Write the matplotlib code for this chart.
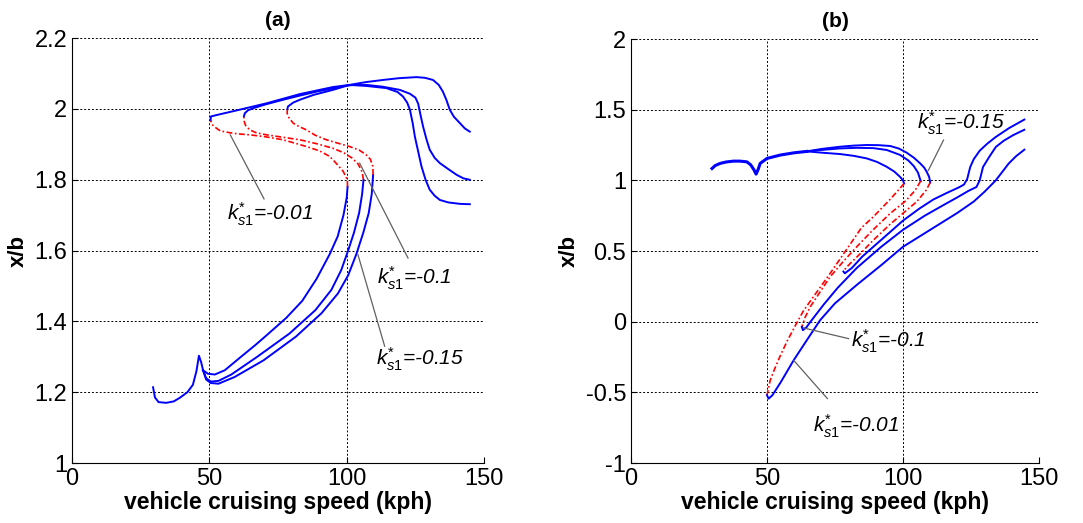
import matplotlib
matplotlib.use('Agg')
import matplotlib.pyplot as plt

plt.rcParams['font.family'] = ['Liberation Sans', 'DejaVu Sans']
plt.rcParams['mathtext.fontset'] = 'custom'
plt.rcParams['mathtext.it'] = 'Liberation Sans:italic'
plt.rcParams['mathtext.rm'] = 'Liberation Sans'

# ---- panel (a): stable (blue) / unstable (red) branches for each k*_s1 ----
a_low_x = [29.5, 30.2, 31.5, 34.3, 37.0, 39.2, 42.0, 44.0, 45.3, 46.2, 47.0, 47.7]
a_low_y = [1.214, 1.185, 1.172, 1.170, 1.174, 1.184, 1.200, 1.221, 1.260, 1.303, 1.285, 1.262]

# k = -0.01
a1_blue1_x = [47.7, 49.5, 52.0, 55.6, 61.5, 67.0, 71.0, 78.0, 83.8, 89.0, 93.8, 96.7, 98.8, 100.0, 100.3]
a1_blue1_y = [1.262, 1.252, 1.250, 1.262, 1.300, 1.335, 1.362, 1.410, 1.458, 1.520, 1.590, 1.640, 1.700, 1.750, 1.780]
a1_red_x = [100.3, 100.2, 98.7, 96.0, 93.8, 90.0, 85.3, 80.0, 76.8, 70.0, 64.7, 60.0, 57.4, 54.0, 52.5, 51.0, 50.4]
a1_red_y = [1.780, 1.800, 1.824, 1.848, 1.866, 1.882, 1.894, 1.906, 1.913, 1.922, 1.927, 1.930, 1.933, 1.938, 1.946, 1.956, 1.969]
a1_blue2_x = [50.4, 50.6, 53.8, 61.0, 70.8, 82.9, 95.0, 101.0, 107.2, 114.4, 118.5, 120.5, 122.0, 123.0, 124.0, 124.8, 126.0, 127.2, 128.7, 130.2, 132.0, 133.9, 137.0, 141.2, 144.8]
a1_blue2_y = [1.969, 1.979, 1.985, 1.998, 2.016, 2.042, 2.062, 2.068, 2.065, 2.059, 2.048, 2.035, 2.018, 1.998, 1.960, 1.922, 1.880, 1.838, 1.800, 1.772, 1.755, 1.743, 1.736, 1.732, 1.731]

# k = -0.1
a2_blue1_x = [47.7, 48.8, 50.5, 53.3, 58.0, 67.4, 79.2, 88.6, 94.4, 98.0, 100.5, 102.6, 104.5, 105.6, 106.1]
a2_blue1_y = [1.262, 1.240, 1.230, 1.232, 1.250, 1.300, 1.366, 1.432, 1.489, 1.545, 1.600, 1.650, 1.706, 1.760, 1.800]
a2_red_x = [106.1, 105.6, 104.2, 102.0, 99.0, 95.0, 89.0, 82.9, 76.0, 70.8, 67.0, 64.7, 63.2, 62.5, 62.6]
a2_red_y = [1.800, 1.822, 1.844, 1.861, 1.876, 1.889, 1.902, 1.913, 1.921, 1.927, 1.933, 1.941, 1.953, 1.969, 1.980]
a2_blue2_x = [62.6, 62.9, 64.0, 65.9, 70.0, 76.8, 83.0, 89.0, 95.0, 99.9, 103.0, 107.2, 113.0, 119.3, 123.0, 125.0, 126.0, 126.8, 127.8, 129.0, 130.2, 132.0, 133.9, 137.0, 140.0, 142.5, 144.8]
a2_blue2_y = [1.980, 1.988, 1.996, 2.002, 2.012, 2.026, 2.038, 2.049, 2.058, 2.066, 2.068, 2.068, 2.063, 2.054, 2.043, 2.032, 2.015, 1.985, 1.950, 1.915, 1.885, 1.862, 1.847, 1.830, 1.814, 1.804, 1.800]

# k = -0.15
a3_blue1_x = [47.7, 48.8, 50.5, 53.3, 59.2, 69.7, 81.5, 90.8, 96.8, 100.5, 103.5, 106.0, 108.0, 109.1, 109.6]
a3_blue1_y = [1.262, 1.236, 1.226, 1.224, 1.243, 1.290, 1.357, 1.423, 1.479, 1.530, 1.590, 1.650, 1.706, 1.760, 1.814]
a3_red_x = [109.6, 109.5, 108.6, 107.0, 104.5, 101.0, 96.5, 92.6, 88.5, 85.3, 82.5, 80.5, 79.0, 78.3, 78.4]
a3_red_y = [1.814, 1.838, 1.858, 1.871, 1.884, 1.894, 1.904, 1.913, 1.926, 1.941, 1.951, 1.960, 1.975, 1.988, 2.000]
a3_blue2_x = [78.4, 78.6, 80.5, 82.9, 88.0, 95.0, 101.0, 107.0, 113.2, 119.0, 125.4, 128.5, 131.4, 133.5, 135.0, 136.3, 137.5, 139.0, 141.2, 143.0, 144.8]
a3_blue2_y = [2.000, 2.007, 2.018, 2.026, 2.040, 2.054, 2.068, 2.076, 2.082, 2.087, 2.090, 2.088, 2.082, 2.068, 2.049, 2.025, 1.998, 1.978, 1.960, 1.945, 1.936]

# ---- panel (b) ----
b_top_x = [29.8, 31.0, 32.8, 35.0, 37.7, 40.0, 42.6, 44.0, 45.2, 46.0, 46.8, 47.5, 50.0, 54.9, 60.0, 64.7]
b_top_y = [1.084, 1.105, 1.120, 1.130, 1.136, 1.136, 1.131, 1.110, 1.075, 1.044, 1.080, 1.120, 1.155, 1.179, 1.195, 1.205]

# k = -0.01
b1_blue1_x = [64.7, 70.0, 76.9, 82.0, 86.7, 90.5, 94.0, 96.8, 98.9, 100.0, 100.4]
b1_blue1_y = [1.205, 1.196, 1.186, 1.173, 1.155, 1.130, 1.096, 1.062, 1.025, 1.000, 0.978]
b1_red_x = [100.4, 98.5, 95.0, 89.1, 84.7, 78.8, 72.9, 67.1, 63.5, 61.2, 57.6, 54.9, 52.8, 51.2, 50.0]
b1_red_y = [0.978, 0.935, 0.860, 0.742, 0.664, 0.498, 0.333, 0.177, 0.080, 0.000, -0.130, -0.240, -0.335, -0.414, -0.520]
b1_blue2_x = [50.0, 50.6, 52.0, 55.0, 59.8, 64.5, 69.5, 75.0, 83.0, 92.0, 100.0, 110.0, 120.0, 126.0, 130.0, 134.1, 136.5, 138.8, 141.5, 144.6]
b1_blue2_y = [-0.520, -0.545, -0.520, -0.430, -0.273, -0.135, 0.010, 0.130, 0.260, 0.400, 0.530, 0.650, 0.770, 0.850, 0.920, 1.000, 1.060, 1.118, 1.170, 1.217]

# k = -0.1
b2_blue1_x = [64.7, 70.0, 76.9, 83.0, 89.1, 94.0, 98.9, 102.0, 104.0, 105.5, 106.5]
b2_blue1_y = [1.205, 1.215, 1.226, 1.230, 1.228, 1.215, 1.180, 1.140, 1.100, 1.055, 0.995]
b2_red_x = [106.5, 104.5, 101.0, 95.3, 89.0, 83.0, 78.0, 73.2, 69.5, 65.9, 64.0, 62.8]
b2_red_y = [0.995, 0.930, 0.855, 0.766, 0.650, 0.530, 0.425, 0.317, 0.210, 0.105, 0.030, -0.037]
b2_blue2_x = [62.8, 63.2, 64.5, 66.0, 70.8, 76.0, 83.0, 92.0, 100.0, 108.0, 114.4, 120.0, 124.0, 127.0, 128.2, 129.4, 131.5, 134.1, 137.0, 140.5, 144.6]
b2_blue2_y = [-0.037, -0.060, -0.040, 0.000, 0.120, 0.240, 0.380, 0.530, 0.650, 0.750, 0.820, 0.880, 0.925, 0.953, 1.000, 1.094, 1.160, 1.236, 1.280, 1.320, 1.358]

# k = -0.15
b3_blue1_x = [64.7, 70.0, 76.9, 82.0, 86.7, 91.0, 95.3, 98.5, 101.4, 104.0, 106.3, 107.8, 108.7, 109.6, 110.0]
b3_blue1_y = [1.205, 1.222, 1.238, 1.246, 1.250, 1.249, 1.243, 1.225, 1.195, 1.160, 1.120, 1.090, 1.061, 1.025, 0.985]
b3_red_x = [110.0, 108.5, 105.0, 101.4, 95.3, 89.1, 84.5, 80.6, 79.0, 78.1]
b3_red_y = [0.985, 0.930, 0.848, 0.790, 0.690, 0.577, 0.485, 0.412, 0.380, 0.355]
b3_blue2_x = [78.1, 78.6, 81.2, 85.0, 89.1, 95.0, 100.0, 106.0, 111.2, 116.0, 120.5, 122.4, 123.6, 124.7, 126.0, 128.2, 131.0, 134.1, 139.0, 144.6]
b3_blue2_y = [0.355, 0.342, 0.380, 0.460, 0.530, 0.630, 0.715, 0.800, 0.865, 0.910, 0.950, 0.970, 1.010, 1.094, 1.150, 1.210, 1.260, 1.307, 1.370, 1.430]

# annotation text and leader-line ends
a_labels = ['-0.01', '-0.1', '-0.15']
a_text_xy = [(56.5, 1.685), (111.0, 1.505), (110.5, 1.275)]
a_line_from = [(69.9, 1.746), (122.3, 1.579), (113.8, 1.330)]
a_line_to = [(57.6, 1.927), (104.7, 1.847), (104.1, 1.588)]

b_labels = ['-0.15', '-0.1', '-0.01']
b_text_xy = [(105.0, 1.36), (81.0, -0.18), (67.0, -0.78)]
b_line_from = [(114.9, 1.285), (80.0, -0.120), (72.2, -0.544)]
b_line_to = [(109.3, 1.070), (63.4, -0.044), (59.8, -0.273)]

blue = '#0000ff'
red = '#ff0000'
lw = 1.4
red_ls = (0, (3.5, 1.5, 1, 1.5))


def style_axes(ax):
    ax.set_xlim(0, 150)
    ax.set_xticks([0, 50, 100, 150])
    ax.grid(True, color='black', linestyle=(0, (2, 2)), linewidth=0.7)
    ax.spines['top'].set_visible(False)
    ax.spines['right'].set_visible(False)
    ax.tick_params(direction='in', length=4, labelsize=17)
    ax.set_xlabel('vehicle cruising speed (kph)', fontsize=16.5, fontweight='bold', labelpad=1)
    ax.set_ylabel('x/b', fontsize=16, fontweight='bold')


def label(ax, txt, xy, p_from, p_to):
    ax.plot([p_from[0], p_to[0]], [p_from[1], p_to[1]], color='#606060', linewidth=0.9)
    ax.text(xy[0], xy[1], r'$k^{*}_{s1}$=' + txt, fontsize=15, style='italic')


fig = plt.figure(figsize=(10.83, 5.23), dpi=100)
ax1 = fig.add_axes([0.0665, 0.1147, 0.3805, 0.8123])
ax2 = fig.add_axes([0.5826, 0.1147, 0.3768, 0.8107])

# (a)
ax1.plot(a_low_x, a_low_y, color=blue, lw=lw)
for bx1, by1, rx, ry, bx2, by2 in [
        (a1_blue1_x, a1_blue1_y, a1_red_x, a1_red_y, a1_blue2_x, a1_blue2_y),
        (a2_blue1_x, a2_blue1_y, a2_red_x, a2_red_y, a2_blue2_x, a2_blue2_y),
        (a3_blue1_x, a3_blue1_y, a3_red_x, a3_red_y, a3_blue2_x, a3_blue2_y)]:
    ax1.plot(bx1, by1, color=blue, lw=lw)
    ax1.plot(rx, ry, color=red, lw=1.2, linestyle=red_ls)
    ax1.plot(bx2, by2, color=blue, lw=lw)
for t, xy, pf, pt in zip(a_labels, a_text_xy, a_line_from, a_line_to):
    label(ax1, t, xy, pf, pt)
ax1.set_ylim(1, 2.2)
ax1.set_yticks([1, 1.2, 1.4, 1.6, 1.8, 2, 2.2])
ax1.set_yticklabels(['1', '1.2', '1.4', '1.6', '1.8', '2', '2.2'])
style_axes(ax1)
ax1.set_title('(a)', fontsize=15, fontweight='bold', pad=9)

# (b)
ax2.plot(b_top_x, b_top_y, color=blue, lw=2.2)
for bx1, by1, rx, ry, bx2, by2 in [
        (b1_blue1_x, b1_blue1_y, b1_red_x, b1_red_y, b1_blue2_x, b1_blue2_y),
        (b2_blue1_x, b2_blue1_y, b2_red_x, b2_red_y, b2_blue2_x, b2_blue2_y),
        (b3_blue1_x, b3_blue1_y, b3_red_x, b3_red_y, b3_blue2_x, b3_blue2_y)]:
    ax2.plot(bx1, by1, color=blue, lw=lw)
    ax2.plot(rx, ry, color=red, lw=1.2, linestyle=red_ls)
    ax2.plot(bx2, by2, color=blue, lw=lw)
for t, xy, pf, pt in zip(b_labels, b_text_xy, b_line_from, b_line_to):
    label(ax2, t, xy, pf, pt)
ax2.set_ylim(-1, 2)
ax2.set_yticks([-1, -0.5, 0, 0.5, 1, 1.5, 2])
ax2.set_yticklabels(['-1', '-0.5', '0', '0.5', '1', '1.5', '2'])
style_axes(ax2)
ax2.set_title('(b)', fontsize=15, fontweight='bold', pad=9)

fig.savefig('out.png', dpi=100)
